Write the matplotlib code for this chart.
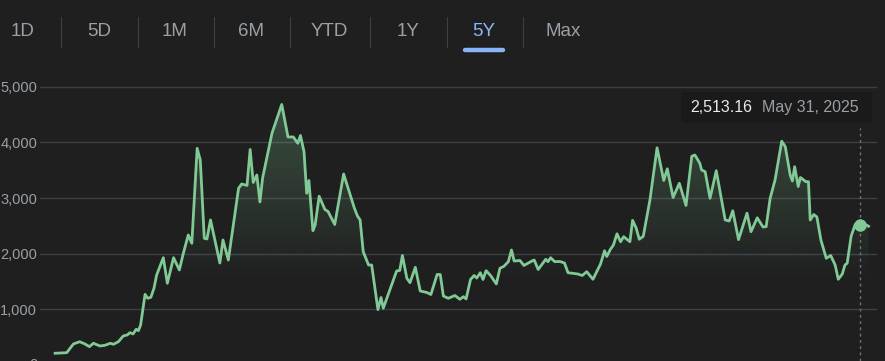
import matplotlib

matplotlib.use("Agg")

import matplotlib.pyplot as plt
import matplotlib.dates as mdates
from matplotlib.patches import FancyBboxPatch, Polygon
from matplotlib.lines import Line2D
import numpy as np
import pandas as pd

BG = "#1f1f1f"
LINE = "#81c995"
GRID = "#3c4043"
MUTED = "#9aa0a6"
BLUE = "#8ab4f8"

# price series (days after START_DATE, value)
START_DATE = "2020-06-19"
DAY_OFFSETS = [
    0, 26, 41, 55, 67, 77, 86, 101, 112, 124, 131, 142, 153, 162, 168, 175, 182, 187, 192, 202,
    208, 215, 222, 228, 243, 252, 266, 279, 287, 299, 307, 319, 326, 335, 341, 349, 370, 377, 389, 412,
    419, 431, 438, 445, 453, 460, 466, 487, 509, 523, 535, 545, 551, 559, 565, 570, 579, 584, 593, 606,
    613, 628, 648, 672, 679, 685, 692, 704, 711, 725, 732, 737, 767, 774, 780, 790, 797, 809, 820, 835,
    844, 858, 865, 872, 883, 898, 909, 917, 923, 933, 941, 947, 955, 961, 968, 978, 991, 999, 1008, 1018,
    1025, 1031, 1044, 1053, 1071, 1076, 1085, 1102, 1107, 1113, 1122, 1134, 1144, 1152, 1174, 1184, 1194, 1208, 1225, 1234,
    1239, 1247, 1254, 1262, 1270, 1277, 1291, 1297, 1305, 1312, 1321, 1336, 1352, 1367, 1375, 1388, 1402, 1417, 1430, 1437,
    1448, 1452, 1460, 1471, 1485, 1505, 1514, 1522, 1535, 1554, 1563, 1577, 1590, 1597, 1606, 1617, 1632, 1640, 1651, 1656,
    1661, 1669, 1674, 1686, 1692, 1696, 1704, 1711, 1720, 1732, 1742, 1752, 1759, 1768, 1774, 1779, 1788, 1797, 1807, 1817,
    1827,
]
PRICES = [
    215, 225, 381, 422, 381, 333, 394, 345, 358, 394, 376, 422, 525, 543, 584, 561, 645, 620, 722, 1273,
    1201, 1219, 1380, 1619, 1929, 1470, 1929, 1709, 1978, 2337, 2188, 3892, 3682, 2277, 2265, 2606, 1834, 2247, 1888, 3174,
    3252, 3225, 3871, 3279, 3413, 2929, 3359, 4161, 4678, 4095, 4095, 3982, 4122, 3831, 3085, 3314, 2414, 2516, 3031, 2794,
    2758, 2525, 3431, 2821, 2678, 2606, 2037, 1798, 1798, 998, 1215, 1022, 1691, 1700, 1969, 1560, 1481, 1757, 1332, 1305,
    1269, 1628, 1628, 1242, 1201, 1251, 1183, 1230, 1189, 1538, 1610, 1565, 1660, 1538, 1696, 1610, 1458, 1739, 1775, 1858,
    2068, 1870, 1879, 1790, 1870, 1888, 1718, 1901, 1858, 1928, 1858, 1861, 1834, 1660, 1637, 1610, 1678, 1542, 1816, 2053,
    1951, 2077, 2157, 2358, 2216, 2306, 2216, 2600, 2462, 2260, 2313, 2965, 3901, 3314, 3524, 3009, 3264, 2866, 3749, 3772,
    3623, 3503, 3472, 2995, 3490, 2606, 2588, 2771, 2254, 2728, 2396, 2645, 2480, 2486, 2995, 3323, 4019, 3921, 3413, 3305,
    3562, 3207, 3368, 3293, 3293, 2606, 2704, 2660, 2247, 1919, 1969, 1798, 1542, 1637, 1798, 1829, 2319, 2525, 2513.16, 2540,
    2493,
]
Y_TICKS = [1000, 2000, 3000, 4000, 5000]
RANGE_TABS = ["1D", "5D", "1M", "6M", "YTD", "1Y", "5Y", "Max"]
ACTIVE_TAB = "5Y"
HOVER_DATE = "2025-05-31"
HOVER_PRICE = 2513.16

W, H = 885, 361


def fx(px):
    return px / W


def fy(py):
    return 1 - py / H


def draw_tabs(fig):
    centers = [23, 99, 175, 251, 329, 408, 484, 563]
    seps = [61, 138, 214, 290, 370, 447, 523]
    for label, cx in zip(RANGE_TABS, centers):
        color = BLUE if label == ACTIVE_TAB else MUTED
        fig.text(fx(cx), fy(31), label, ha="center", va="center", fontsize=13.5, color=color)
    for sx in seps:
        fig.add_artist(Line2D([fx(sx), fx(sx)], [fy(17), fy(47)], color=GRID, lw=0.8))
    # active underline
    fig.add_artist(Line2D([fx(465), fx(503)], [fy(49.5), fy(49.5)], color=BLUE, lw=3.2,
                          solid_capstyle="round"))


def main():
    plt.rcParams["font.family"] = ["Liberation Sans", "DejaVu Sans"]
    fig = plt.figure(figsize=(W / 100, H / 100), dpi=100, facecolor=BG)
    ax = fig.add_axes([fx(40), 0, 837 / W, 301 / H])
    ax.set_facecolor(BG)

    start = pd.Timestamp(START_DATE)
    dates = start + pd.to_timedelta(DAY_OFFSETS, unit="D")
    prices = np.array(PRICES, dtype=float)

    x0 = start - pd.Timedelta(days=34)
    x1 = start + pd.Timedelta(days=1846)
    ax.set_xlim(x0, x1)
    ax.set_ylim(76, 5476)

    # gradient fill under the line
    xn = mdates.date2num(dates)
    y_bot = 76
    verts = np.column_stack([np.r_[xn[0], xn, xn[-1]], np.r_[y_bot, prices, y_bot]])
    poly = Polygon(verts, closed=True, facecolor="none", edgecolor="none")
    ax.add_patch(poly)
    grad = np.zeros((200, 2, 4))
    rgb = matplotlib.colors.to_rgb(LINE)
    grad[..., 0], grad[..., 1], grad[..., 2] = rgb
    alpha = np.clip(np.linspace(0.28, -0.12, 200), 0, None)
    grad[..., 3] = alpha[:, None]
    im = ax.imshow(grad, extent=[xn[0], xn[-1], y_bot, 4700], aspect="auto", origin="upper", zorder=1)
    im.set_clip_path(poly)

    ax.plot(dates, prices, color=LINE, lw=2.0, zorder=3, solid_joinstyle="round")

    hover = pd.Timestamp(HOVER_DATE)
    ax.axvline(hover, ymin=0, ymax=(361 - 128) / 301, color="#6f7378", lw=1, ls=(0, (2, 2.5)), zorder=2)
    ax.plot([hover], [HOVER_PRICE], "o", ms=8, color=LINE, zorder=4)

    ax.set_yticks(Y_TICKS)
    ax.set_yticklabels([f"{v:,}" for v in Y_TICKS])
    ax.tick_params(axis="y", length=0, pad=2, labelsize=10.5, labelcolor=MUTED)
    ax.set_xticks([])
    ax.grid(True, axis="y", color=GRID, lw=1)
    ax.set_axisbelow(True)
    for s in ax.spines.values():
        s.set_visible(False)
    # the zero label sits on the bottom edge, cut off as in the screenshot
    ax.annotate("0", xy=(0, 0), xycoords=("axes fraction", "data"), xytext=(-2, 0),
                textcoords="offset pixels", ha="right", va="center", fontsize=10.5,
                color=MUTED, annotation_clip=False)

    # tooltip
    box = FancyBboxPatch((fx(681), fy(123)), 191 / W, 31 / H,
                         boxstyle="round,pad=0,rounding_size=0.006",
                         transform=fig.transFigure, facecolor="#1a1a1a", edgecolor="none", zorder=5)
    fig.add_artist(box)
    fig.text(fx(690), fy(107.5), f"{HOVER_PRICE:,.2f}", ha="left", va="center",
             fontsize=11.5, color="#e8eaed", zorder=6)
    fig.text(fx(762), fy(107.5), hover.strftime("%b %d, %Y"), ha="left", va="center",
             fontsize=11.5, color=MUTED, zorder=6)

    draw_tabs(fig)

    fig.savefig("out.png", dpi=100, facecolor=BG)
    plt.close(fig)


if __name__ == "__main__":
    main()
